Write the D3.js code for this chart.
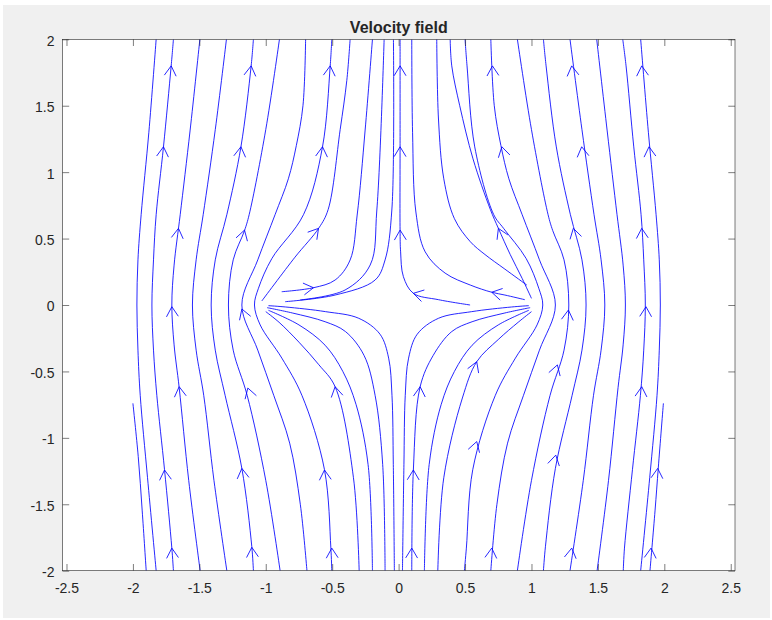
<!DOCTYPE html>
<html>
<head>
<meta charset="utf-8">
<script src="https://cdn.jsdelivr.net/npm/d3@7"></script>
<style>
  html, body { margin: 0; padding: 0; background: #ffffff; }
  svg { display: block; }
  text { font-family: "Liberation Sans", Arial, Helvetica, sans-serif; fill: #262626; }
</style>
</head>
<body>
<svg id="chart" width="772" height="620"></svg>
<script>
// ---------------- data ----------------
const titleText = "Velocity field";
const xTicks = [-2.5, -2, -1.5, -1, -0.5, 0, 0.5, 1, 1.5, 2, 2.5];
const yTicks = [-2, -1.5, -1, -0.5, 0, 0.5, 1, 1.5, 2];
const xLimits = [-2.53, 2.532];
const yLimits = [-2, 2];

// streamlines (x, y), ordered along the flow direction
const lineL0 = [[-1.90,-2],[-1.93,-1.55],[-1.96,-1.14],[-2.0,-0.74]];
const lineL1 = [[-1.825,-2],[-1.89,-1.3],[-1.945,-0.68],[-1.962,-0.34],[-1.97,0],[-1.962,0.34],[-1.938,0.68],[-1.88,1.3],[-1.825,2]];
const lineL2 = [[-1.695,-2],[-1.707,-1.83],[-1.762,-1.24],[-1.82,-0.68],[-1.845,-0.34],[-1.857,0],[-1.845,0.34],[-1.825,0.68],[-1.77,1.19],[-1.712,1.8],[-1.695,2]];
const lineL3 = [[-1.494,-2],[-1.58,-1.32],[-1.652,-0.62],[-1.69,-0.3],[-1.707,0],[-1.69,0.3],[-1.644,0.68],[-1.57,1.31],[-1.496,2]];
const lineL4 = [[-1.293,-2],[-1.39,-1.32],[-1.467,-0.68],[-1.524,-0.34],[-1.552,0],[-1.524,0.34],[-1.471,0.68],[-1.38,1.32],[-1.296,2]];
const lineL5 = [[-1.093,-2],[-1.105,-1.82],[-1.18,-1.23],[-1.306,-0.68],[-1.38,-0.34],[-1.411,0],[-1.38,0.34],[-1.293,0.68],[-1.187,1.19],[-1.11,1.8],[-1.093,2]];
const lineL6 = [[-0.892,-2],[-1.0,-1.32],[-1.14,-0.68],[-1.245,-0.34],[-1.281,0],[-1.245,0.34],[-1.16,0.56],[-1.125,0.68],[-1.0,1.32],[-0.897,2]];
const lineL7 = [[-0.69,-2],[-0.74,-1.5],[-0.82,-1.04],[-0.94,-0.68],[-1.06,-0.34],[-1.18,0],[-1.06,0.34],[-0.93,0.68],[-0.83,0.95],[-0.77,1.2],[-0.72,1.5],[-0.70,2]];
const lineL8 = [[-0.503,-2],[-0.51,-1.83],[-0.558,-1.24],[-0.728,-0.68],[-0.879,-0.40],[-1.042,-0.15],[-1.085,0],[-1.055,0.126],[-0.954,0.35],[-0.716,0.68],[-0.573,1.19],[-0.515,1.8],[-0.503,2]];

const lineFa = [[-1.03,0.03],[-0.78,0.36],[-0.60,0.58],[-0.53,0.72],[-0.44,1.32],[-0.39,1.69],[-0.365,2]];
const lineFc = [[-0.88,0.10],[-0.641,0.13],[-0.478,0.188],[-0.365,0.339],[-0.312,0.677],[-0.252,1.317],[-0.197,2]];
const lineFd = [[-0.741,0.038],[-0.403,0.113],[-0.214,0.301],[-0.164,0.715],[-0.109,2]];
const lineFe = [[-0.854,0.025],[-0.478,0.075],[-0.177,0.188],[-0.102,0.339],[-0.051,0.715],[-0.039,2]];
const lineC0 = [[0.538,0.0],[0.30,0.04],[0.111,0.088],[0.036,0.213],[0.015,0.4],[0.011,0.564],[0.011,1.19],[0.011,2]];

const lineD1 = [[-0.032,-2],[-0.04,-1.2],[-0.05,-0.68],[-0.075,-0.40],[-0.14,-0.22],[-0.3,-0.1],[-0.55,-0.05],[-0.85,-0.015],[-0.98,-0.005]];
const lineD2 = [[-0.102,-2],[-0.12,-1.2],[-0.177,-0.68],[-0.26,-0.38],[-0.4,-0.2],[-0.553,-0.126],[-0.8,-0.06],[-0.99,-0.02]];
const lineD3 = [[-0.197,-2],[-0.23,-1.2],[-0.32,-0.75],[-0.42,-0.5],[-0.553,-0.303],[-0.75,-0.15],[-0.98,-0.04]];
const lineD4 = [[-0.297,-2],[-0.34,-1.3],[-0.478,-0.615],[-0.6,-0.45],[-0.75,-0.28],[-0.9,-0.13],[-1.0,-0.05]];

const lineR0 = [[1.892,-2],[1.93,-1.55],[1.955,-1.22],[1.993,-0.74]];
const lineR1 = [[1.822,-2],[1.89,-1.3],[1.945,-0.68],[1.962,-0.34],[1.97,0],[1.962,0.34],[1.938,0.68],[1.88,1.3],[1.822,2]];
const lineR2 = [[1.691,-2],[1.70,-1.83],[1.76,-1.24],[1.82,-0.68],[1.845,-0.34],[1.857,0],[1.845,0.34],[1.825,0.68],[1.77,1.19],[1.712,1.8],[1.687,2]];
const lineR3 = [[1.494,-2],[1.58,-1.32],[1.652,-0.62],[1.69,-0.3],[1.707,0],[1.69,0.3],[1.644,0.68],[1.57,1.31],[1.491,2]];
const lineR4 = [[1.29,-2],[1.39,-1.32],[1.467,-0.68],[1.524,-0.34],[1.552,0],[1.524,0.34],[1.471,0.68],[1.38,1.32],[1.29,2]];
const lineR5 = [[1.09,-2],[1.105,-1.82],[1.18,-1.23],[1.306,-0.68],[1.38,-0.34],[1.411,0],[1.38,0.34],[1.293,0.68],[1.187,1.19],[1.11,1.8],[1.09,2]];
const lineR6 = [[0.894,-2],[1.0,-1.32],[1.14,-0.68],[1.245,-0.34],[1.281,0],[1.245,0.34],[1.16,0.56],[1.125,0.68],[1.0,1.32],[0.894,2]];
const lineR7 = [[0.694,-2],[0.74,-1.5],[0.82,-1.04],[0.94,-0.68],[1.06,-0.34],[1.18,0],[1.06,0.34],[0.93,0.68],[0.83,0.95],[0.77,1.2],[0.72,1.5],[0.694,2]];
const lineR8 = [[0.495,-2],[0.51,-1.83],[0.558,-1.24],[0.728,-0.68],[0.879,-0.40],[1.042,-0.15],[1.085,0],[1.055,0.126],[0.96,0.35],[0.79,0.577],[0.716,0.68],[0.573,1.19],[0.515,1.8],[0.50,2]];

const lineRa = [[1.0,0.05],[0.93,0.2],[0.84,0.38],[0.751,0.577],[0.69,0.72],[0.56,1.1],[0.46,1.5],[0.40,1.8],[0.388,2]];
const lineRc = [[0.965,0.15],[0.80,0.27],[0.65,0.38],[0.54,0.476],[0.42,0.65],[0.34,0.95],[0.30,1.4],[0.287,2]];
const lineRb = [[0.95,0.04],[0.80,0.075],[0.701,0.096],[0.54,0.15],[0.35,0.24],[0.2,0.4],[0.13,0.7],[0.105,1.3],[0.099,2]];

const lineE1 = [[0.029,-2],[0.04,-1.2],[0.05,-0.68],[0.075,-0.40],[0.14,-0.22],[0.3,-0.1],[0.55,-0.05],[0.85,-0.015],[0.98,-0.005]];
const lineE2 = [[0.099,-2],[0.111,-1.242],[0.162,-0.615],[0.26,-0.38],[0.4,-0.2],[0.553,-0.126],[0.8,-0.06],[0.99,-0.02]];
const lineE3 = [[0.194,-2],[0.23,-1.2],[0.32,-0.75],[0.42,-0.5],[0.553,-0.303],[0.75,-0.15],[0.98,-0.04]];
const lineE4 = [[0.295,-2],[0.34,-1.3],[0.48,-0.7],[0.588,-0.427],[0.75,-0.26],[0.9,-0.13],[1.0,-0.05]];

const streamlines = [lineL0, lineL1, lineL2, lineL3, lineL4, lineL5, lineL6, lineL7, lineL8,
  lineFa, lineFc, lineFd, lineFe, lineC0, lineD1, lineD2, lineD3, lineD4,
  lineR0, lineR1, lineR2, lineR3, lineR4, lineR5, lineR6, lineR7, lineR8,
  lineRa, lineRb, lineRc, lineE1, lineE2, lineE3, lineE4];

// arrow-head positions (x, y)
const arrowPoints = [
  [-1.712,1.8],[-1.11,1.8],[-0.515,1.8],[0.011,1.8],[0.706,1.8],[1.303,1.8],[1.83,1.8],
  [-1.77,1.191],[-1.187,1.191],[-0.573,1.191],[0.011,1.191],[0.777,1.191],[1.378,1.191],[1.885,1.191],
  [-1.657,0.577],[-1.16,0.564],[-0.603,0.577],[0.011,0.564],[0.751,0.577],[1.315,0.577],[1.83,0.577],
  [-1.707,-0.013],[-1.18,-0.03],[-0.641,0.13],[0.111,0.088],[0.701,0.096],[1.278,-0.038],[1.862,-0.013],
  [-1.652,-0.615],[-1.135,-0.625],[-0.478,-0.615],[0.162,-0.615],[0.588,-0.427],[1.195,-0.451],[1.83,-0.615],
  [-1.762,-1.242],[-1.18,-1.23],[-0.558,-1.242],[0.111,-1.242],[0.588,-1.028],[1.183,-1.13],[1.95,-1.23],
  [-1.707,-1.83],[-1.105,-1.824],[-0.503,-1.83],[0.099,-1.83],[0.701,-1.83],[1.303,-1.83],[1.9,-1.83]
];

// ---------------- drawing ----------------
const svg = d3.select("#chart");
const W = 772, H = 620;
const plot = { left: 62.5, right: 735, top: 39.3, bottom: 570.7 };

svg.append("rect").attr("x", 3).attr("y", 5).attr("width", W - 5).attr("height", H - 7)
  .attr("fill", "#f0f0f0");

const x = d3.scaleLinear().domain(xLimits).range([plot.left, plot.right]);
const y = d3.scaleLinear().domain(yLimits).range([plot.bottom, plot.top]);

svg.append("rect").attr("x", plot.left).attr("y", plot.top)
  .attr("width", plot.right - plot.left).attr("height", plot.bottom - plot.top)
  .attr("fill", "#ffffff");

const defs = svg.append("defs");
defs.append("clipPath").attr("id", "clip").append("rect")
  .attr("x", plot.left).attr("y", plot.top)
  .attr("width", plot.right - plot.left).attr("height", plot.bottom - plot.top);

const g = svg.append("g").attr("clip-path", "url(#clip)");
const lineGen = d3.line().x(d => x(d[0])).y(d => y(d[1])).curve(d3.curveCatmullRom.alpha(0.5));

g.selectAll("path.stream").data(streamlines).enter().append("path")
  .attr("class", "stream")
  .attr("d", lineGen)
  .attr("fill", "none")
  .attr("stroke", "#0000ff")
  .attr("stroke-width", 0.85);

// arrow heads oriented along nearest streamline segment
function nearestDir(px, py) {
  let best = Infinity, dir = [0, -1];
  streamlines.forEach(line => {
    for (let i = 0; i < line.length - 1; i++) {
      const ax = x(line[i][0]), ay = y(line[i][1]);
      const bx = x(line[i+1][0]), by = y(line[i+1][1]);
      const dx = bx - ax, dy = by - ay;
      const len2 = dx*dx + dy*dy;
      let t = ((px - ax)*dx + (py - ay)*dy) / len2;
      t = Math.max(0, Math.min(1, t));
      const cx = ax + t*dx, cy = ay + t*dy;
      const dist = (px-cx)*(px-cx) + (py-cy)*(py-cy);
      if (dist < best) { best = dist; const l = Math.sqrt(len2); dir = [dx/l, dy/l]; }
    }
  });
  return dir;
}
const armLen = 11.5, armAng = 31 * Math.PI / 180;
arrowPoints.forEach(p => {
  const px = x(p[0]), py = y(p[1]);
  const d = nearestDir(px, py);
  const back = [-d[0], -d[1]];
  const rot = (v, a) => [v[0]*Math.cos(a) - v[1]*Math.sin(a), v[0]*Math.sin(a) + v[1]*Math.cos(a)];
  const a1 = rot(back, armAng), a2 = rot(back, -armAng);
  g.append("path")
    .attr("d", `M${px + a1[0]*armLen},${py + a1[1]*armLen}L${px},${py}L${px + a2[0]*armLen},${py + a2[1]*armLen}`)
    .attr("fill", "none").attr("stroke", "#0000ff").attr("stroke-width", 0.85);
});

// axes
const tickLen = 6.7;
const axisColor = "#262626";
const fmt = d => d3.format("")(d).replace("\u2212", "-");
const xAxisB = d3.axisBottom(x).tickValues(xTicks).tickSize(-tickLen).tickPadding(12).tickFormat(fmt);
const xAxisT = d3.axisTop(x).tickValues(xTicks).tickSize(-tickLen).tickFormat("");
const yAxisL = d3.axisLeft(y).tickValues(yTicks).tickSize(-tickLen).tickPadding(8).tickFormat(fmt);
const yAxisR = d3.axisRight(y).tickValues(yTicks).tickSize(-tickLen).tickFormat("");

function styleAxis(sel) {
  sel.select(".domain").remove();
  sel.selectAll(".tick line").attr("stroke", axisColor).attr("stroke-width", 0.6);
  sel.selectAll(".tick text").attr("fill", "#262626")
    .style("font-family", "'Liberation Sans', Arial, Helvetica, sans-serif")
    .style("font-size", "14px");
}
svg.append("g").attr("transform", `translate(0,${plot.bottom})`).call(xAxisB).call(styleAxis);
svg.append("g").attr("transform", `translate(0,${plot.top})`).call(xAxisT).call(styleAxis);
const yg = svg.append("g").attr("transform", `translate(${plot.left},0)`).call(yAxisL).call(styleAxis);
yg.selectAll(".tick text").attr("dy", "0.42em");
svg.append("g").attr("transform", `translate(${plot.right},0)`).call(yAxisR).call(styleAxis);

svg.append("rect").attr("x", plot.left).attr("y", plot.top)
  .attr("width", plot.right - plot.left).attr("height", plot.bottom - plot.top)
  .attr("fill", "none").attr("stroke", axisColor).attr("stroke-width", 0.6);

svg.append("text").attr("x", (plot.left + plot.right) / 2).attr("y", 32.5)
  .attr("text-anchor", "middle")
  .style("font-weight", "bold").style("font-size", "16px")
  .text(titleText);
</script>
</body>
</html>
